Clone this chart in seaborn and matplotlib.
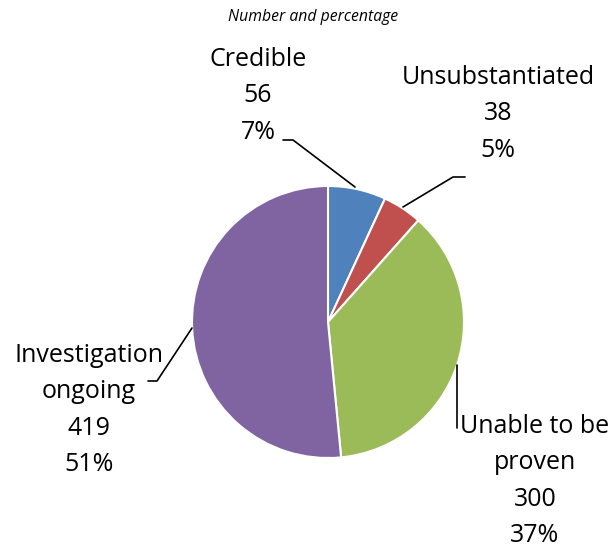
import matplotlib
matplotlib.use("Agg")
import matplotlib.pyplot as plt
import seaborn as sns

categories = ["Credible", "Unsubstantiated", "Unable to be\nproven", "Investigation\nongoing"]
values = [56, 38, 300, 419]
percents = [7, 5, 37, 51]
colors = ["#4F81BD", "#C0504D", "#9BBB59", "#8064A2"]

sns.set_theme(style="white")
plt.rcParams["font.family"] = ["Open Sans", "DejaVu Sans"]

W, H = 614, 548
fig = plt.figure(figsize=(W / 100, H / 100), dpi=100)
ax = fig.add_axes([0, 0, 1, 1])

def Y(y):
    return H - y

ax.pie(values, colors=colors, startangle=90, counterclock=False,
       center=(328, Y(322)), radius=136,
       wedgeprops=dict(edgecolor="white", linewidth=1.5))
ax.set_xlim(0, W)
ax.set_ylim(0, H)
ax.set_aspect("equal")
ax.axis("off")

# label block centers (pixel coords)
label_pos = [(258, 96), (498, 114), (535, 481), (89, 410)]
for cat, v, p, (x, y) in zip(categories, values, percents, label_pos):
    ax.text(x, Y(y), f"{cat}\n{v}\n{p}%", ha="center", va="center",
            fontsize=18, linespacing=1.6, color="black",
            transform=ax.transData)

# leader lines
leaders = [
    [(283, 140), (293, 140), (355, 187)],
    [(465, 177), (453, 177), (403, 207)],
    [(457, 365), (457, 428)],
    [(148, 381), (157, 381), (192, 328)],
]
for pts in leaders:
    ax.plot([p[0] for p in pts], [Y(p[1]) for p in pts], color="black", lw=1.2)

fig.text(313 / W, 1 - 17 / H, "Number and percentage", ha="center", va="center",
         fontsize=11.3, style="italic", color="black")

fig.savefig("out.png", dpi=100)
